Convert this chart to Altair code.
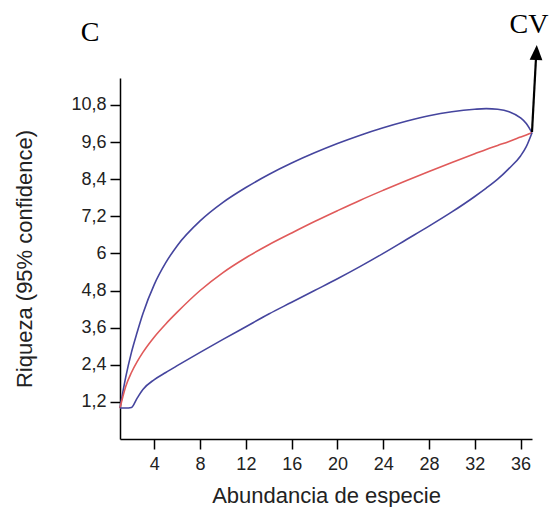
import altair as alt
import pandas as pd

# Sample sizes (x)
x_vals = [1, 1.5, 2, 2.5, 3, 4, 5, 6, 8, 10, 12, 14, 16, 18, 20, 22, 24, 26, 28, 30, 32, 33, 34, 35, 36, 36.5, 37]
# Upper 95% bound
upper = [1.0, 2.0, 2.8, 3.45, 4.05, 5.0, 5.7, 6.25, 7.05, 7.65, 8.13, 8.55, 8.92, 9.25, 9.55, 9.82, 10.06, 10.27, 10.45, 10.58, 10.66, 10.68, 10.66, 10.58, 10.38, 10.2, 9.9]
# Mean richness (rarefaction)
mean = [1.0, 1.7, 2.15, 2.5, 2.8, 3.3, 3.72, 4.1, 4.8, 5.38, 5.86, 6.28, 6.66, 7.03, 7.38, 7.72, 8.04, 8.35, 8.65, 8.94, 9.22, 9.36, 9.49, 9.62, 9.76, 9.83, 9.9]
# Lower 95% bound
lower = [1.0, 1.0, 1.02, 1.32, 1.6, 1.92, 2.15, 2.37, 2.8, 3.22, 3.63, 4.04, 4.42, 4.8, 5.18, 5.58, 6.0, 6.44, 6.88, 7.34, 7.84, 8.11, 8.4, 8.75, 9.15, 9.45, 9.9]

y_ticks = [1.2, 2.4, 3.6, 4.8, 6, 7.2, 8.4, 9.6, 10.8]
x_ticks = [4, 8, 12, 16, 20, 24, 28, 32, 36]

series_names = ["upper", "mean", "lower"]
series_colors = ["#45459e", "#e05a5a", "#45459e"]

rows = []
for name, vals in zip(series_names, [upper, mean, lower]):
    for i, (xv, yv) in enumerate(zip(x_vals, vals)):
        rows.append({"x": xv, "y": yv, "series": name, "order": i})
df = pd.DataFrame(rows)

lines = alt.Chart(df).mark_line(strokeWidth=1.6, interpolate="monotone").encode(
    x=alt.X("x:Q", scale=alt.Scale(domain=[1, 37], nice=False, zero=False),
            axis=alt.Axis(values=x_ticks, title="Abundancia de especie", format="d",
                          labelPadding=6, titlePadding=12)),
    y=alt.Y("y:Q", scale=alt.Scale(domain=[0, 11.67], nice=False, zero=False),
            axis=alt.Axis(values=y_ticks, title="Riqueza (95% confidence)",
                          labelExpr="replace(format(datum.value, '.3~g'), '.', ',')",
                          labelPadding=4, titlePadding=34)),
    color=alt.Color("series:N", scale=alt.Scale(domain=series_names, range=series_colors), legend=None),
    detail="series:N",
    order="order:Q",
)

arrow_line = alt.Chart(pd.DataFrame({"a": [0]})).mark_rule(color="black", strokeWidth=2.2).encode(
    x=alt.value(412), y=alt.value(54), x2=alt.value(416), y2=alt.value(-20)
)
arrow_head = alt.Chart(pd.DataFrame({"a": [0]})).mark_point(
    shape="M0,-1L0.85,1L-0.85,1Z", filled=True, color="black", size=225, angle=3, opacity=1
).encode(x=alt.value(416.4), y=alt.value(-25.5))

label_cv = alt.Chart(pd.DataFrame({"t": ["CV"]})).mark_text(
    font="Liberation Serif", fontSize=28, color="black", align="center", baseline="alphabetic"
).encode(text="t:N", x=alt.value(409), y=alt.value(-45))

label_c = alt.Chart(pd.DataFrame({"t": ["C"]})).mark_text(
    font="Liberation Serif", fontSize=28, color="black", align="center", baseline="alphabetic"
).encode(text="t:N", x=alt.value(-30), y=alt.value(-37))

chart = alt.layer(lines, arrow_line, arrow_head, label_cv, label_c).properties(
    width=412, height=361,
    autosize=alt.AutoSizeParams(type="none"),
    padding={"left": 112, "top": 70, "right": 17, "bottom": 68},
).configure_view(stroke=None).configure_axis(
    grid=False,
    domainColor="black", domainWidth=1.5,
    tickColor="black", tickWidth=1.5, tickSize=10,
    labelFont="Liberation Sans", labelFontSize=18, labelColor="#222",
    titleFont="Liberation Sans", titleFontSize=22, titleFontWeight="normal", titleColor="#222",
)

chart.save("out.html", embed_options={"renderer": "svg", "actions": False})
